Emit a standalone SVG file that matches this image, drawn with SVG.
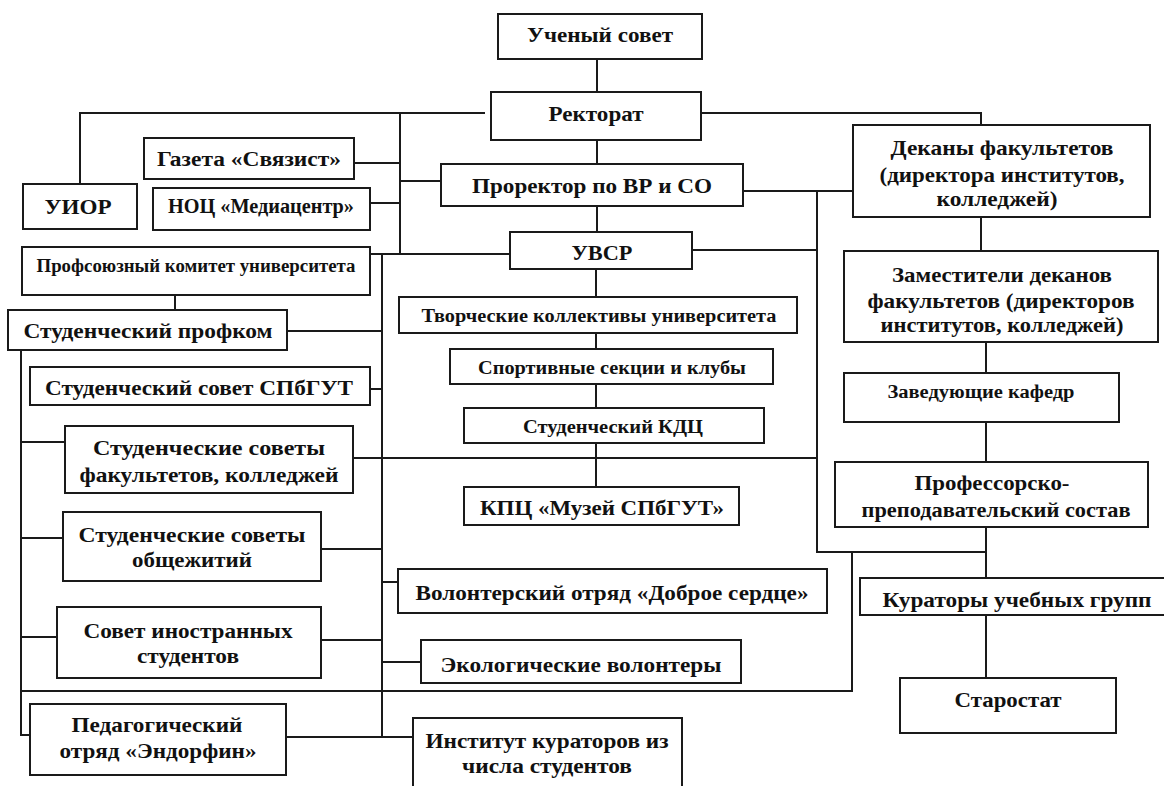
<svg xmlns="http://www.w3.org/2000/svg" width="1164" height="786" viewBox="0 0 1164 786">
<style>
.b{fill:#fff;stroke:#1a1a1a;stroke-width:2}
.c{fill:none;stroke:#1a1a1a;stroke-width:2}
text{font-family:"Liberation Serif","Times New Roman",serif;font-weight:bold;fill:#111;text-anchor:middle}
.l{font-size:22px}.m{font-size:20px}.s{font-size:18px}
</style>
<rect width="1164" height="786" fill="#fff"/>
<g id="connectors" class="c">
<path d="M597,59V92M597,140V164M597,206V232"/>
<path d="M596,269V297M596,333V349M596,384V408M596,443V487"/>
<path d="M485,113H80V184M701,113H981V125"/>
<path d="M400,113V254M354,163H400M370,203H400M400,181H441"/>
<path d="M370,254H510M382,254V737"/>
<path d="M287,331H382M370,389H382M353,458H817"/>
<path d="M321,549H382M382,582H398M321,640H382M382,662H421M285,737H413"/>
<path d="M175,295V310"/>
<path d="M21,350V735H30M21,442H65M21,538H63M21,637H57M21,691H852V552"/>
<path d="M743,191H853M817,191V552H986M692,250H817"/>
<path d="M981,217V251M986,342V373M986,422V462M986,527V578M986,615V678"/>
</g>
<g id="n-uchenyi"><rect class="b" x="498" y="14" width="204" height="45"/><text class="l" x="600" y="42" textLength="146" lengthAdjust="spacingAndGlyphs">Ученый совет</text></g>
<g id="n-rektorat"><rect class="b" x="491" y="92" width="210" height="48"/><text class="l" x="596" y="121" textLength="95" lengthAdjust="spacingAndGlyphs">Ректорат</text></g>
<g id="n-prorektor"><rect class="b" x="441" y="164" width="302" height="42"/><text class="l" x="592" y="193" textLength="240" lengthAdjust="spacingAndGlyphs">Проректор по ВР и СО</text></g>
<g id="n-uvsr"><rect class="b" x="510" y="232" width="182" height="37"/><text class="l" x="602" y="260" textLength="61" lengthAdjust="spacingAndGlyphs">УВСР</text></g>
<g id="n-uior"><rect class="b" x="23" y="184" width="114" height="45"/><text class="l" x="78" y="214" textLength="67" lengthAdjust="spacingAndGlyphs">УИОР</text></g>
<g id="n-gazeta"><rect class="b" x="144" y="138" width="210" height="41"/><text class="m" x="249" y="166" textLength="184" lengthAdjust="spacingAndGlyphs">Газета «Связист»</text></g>
<g id="n-nots"><rect class="b" x="153" y="188" width="217" height="42"/><text class="m" x="261" y="213" textLength="186" lengthAdjust="spacingAndGlyphs">НОЦ «Медиацентр»</text></g>
<g id="n-profsoyuz"><rect class="b" x="22" y="247" width="348" height="48"/><text class="s" x="196" y="272" textLength="319" lengthAdjust="spacingAndGlyphs">Профсоюзный комитет университета</text></g>
<g id="n-profkom"><rect class="b" x="8" y="310" width="279" height="40"/><text class="l" x="148" y="338" textLength="249" lengthAdjust="spacingAndGlyphs">Студенческий профком</text></g>
<g id="n-studsovet"><rect class="b" x="30" y="367" width="340" height="38"/><text class="m" x="199" y="395" textLength="308" lengthAdjust="spacingAndGlyphs">Студенческий совет СПбГУТ</text></g>
<g id="n-fakult"><rect class="b" x="65" y="426" width="288" height="67"/><text class="l" x="209" y="455" textLength="232" lengthAdjust="spacingAndGlyphs">Студенческие советы</text><text class="l" x="209" y="482" textLength="259" lengthAdjust="spacingAndGlyphs">факультетов, колледжей</text></g>
<g id="n-obshch"><rect class="b" x="63" y="512" width="258" height="69"/><text class="l" x="192" y="542" textLength="227" lengthAdjust="spacingAndGlyphs">Студенческие советы</text><text class="l" x="192" y="567" textLength="120" lengthAdjust="spacingAndGlyphs">общежитий</text></g>
<g id="n-inostr"><rect class="b" x="57" y="607" width="264" height="71"/><text class="l" x="188" y="638" textLength="209" lengthAdjust="spacingAndGlyphs">Совет иностранных</text><text class="l" x="188" y="663" textLength="102" lengthAdjust="spacingAndGlyphs">студентов</text></g>
<g id="n-pedag"><rect class="b" x="30" y="704" width="256" height="71"/><text class="l" x="157" y="732" textLength="171" lengthAdjust="spacingAndGlyphs">Педагогический</text><text class="l" x="158" y="758" textLength="197" lengthAdjust="spacingAndGlyphs">отряд «Эндорфин»</text></g>
<g id="n-tvorch"><rect class="b" x="399" y="297" width="398" height="36"/><text class="s" x="599" y="322" textLength="355" lengthAdjust="spacingAndGlyphs">Творческие коллективы университета</text></g>
<g id="n-sport"><rect class="b" x="450" y="349" width="323" height="35"/><text class="s" x="612" y="374" textLength="268" lengthAdjust="spacingAndGlyphs">Спортивные секции и клубы</text></g>
<g id="n-kdc"><rect class="b" x="464" y="408" width="300" height="35"/><text class="s" x="613" y="433" textLength="180" lengthAdjust="spacingAndGlyphs">Студенческий КДЦ</text></g>
<g id="n-kpc"><rect class="b" x="464" y="487" width="275" height="38"/><text class="l" x="602" y="515" textLength="244" lengthAdjust="spacingAndGlyphs">КПЦ «Музей СПбГУТ»</text></g>
<g id="n-volont"><rect class="b" x="398" y="569" width="429" height="44"/><text class="m" x="612" y="600" textLength="393" lengthAdjust="spacingAndGlyphs">Волонтерский отряд «Доброе сердце»</text></g>
<g id="n-ekol"><rect class="b" x="421" y="640" width="320" height="43"/><text class="m" x="581" y="672" textLength="281" lengthAdjust="spacingAndGlyphs">Экологические волонтеры</text></g>
<g id="n-institut"><rect class="b" x="413" y="718" width="269" height="74"/><text class="l" x="547" y="748" textLength="243" lengthAdjust="spacingAndGlyphs">Институт кураторов из</text><text class="l" x="547" y="773" textLength="170" lengthAdjust="spacingAndGlyphs">числа студентов</text></g>
<g id="n-dekany"><rect class="b" x="853" y="125" width="297" height="92"/><text class="l" x="1002" y="155" textLength="223" lengthAdjust="spacingAndGlyphs">Деканы факультетов</text><text class="l" x="1002" y="182" textLength="245" lengthAdjust="spacingAndGlyphs">(директора институтов,</text><text class="l" x="997" y="206" textLength="121" lengthAdjust="spacingAndGlyphs">колледжей)</text></g>
<g id="n-zam"><rect class="b" x="844" y="251" width="314" height="91"/><text class="l" x="1002" y="282" textLength="220" lengthAdjust="spacingAndGlyphs">Заместители деканов</text><text class="l" x="1001" y="308" textLength="267" lengthAdjust="spacingAndGlyphs">факультетов (директоров</text><text class="l" x="1002" y="332" textLength="243" lengthAdjust="spacingAndGlyphs">институтов, колледжей)</text></g>
<g id="n-zaved"><rect class="b" x="844" y="373" width="275" height="49"/><text class="s" x="981" y="398" textLength="187" lengthAdjust="spacingAndGlyphs">Заведующие кафедр</text></g>
<g id="n-profsostav"><rect class="b" x="835" y="462" width="313" height="65"/><text class="l" x="992" y="490" textLength="155" lengthAdjust="spacingAndGlyphs">Профессорско-</text><text class="l" x="996" y="517" textLength="269" lengthAdjust="spacingAndGlyphs">преподавательский состав</text></g>
<g id="n-kurator"><rect class="b" x="860" y="578" width="310" height="37"/><text class="l" x="1017" y="607" textLength="269" lengthAdjust="spacingAndGlyphs">Кураторы учебных групп</text></g>
<g id="n-starostat"><rect class="b" x="900" y="678" width="216" height="55"/><text class="l" x="1008" y="707" textLength="107" lengthAdjust="spacingAndGlyphs">Старостат</text></g>
</svg>
